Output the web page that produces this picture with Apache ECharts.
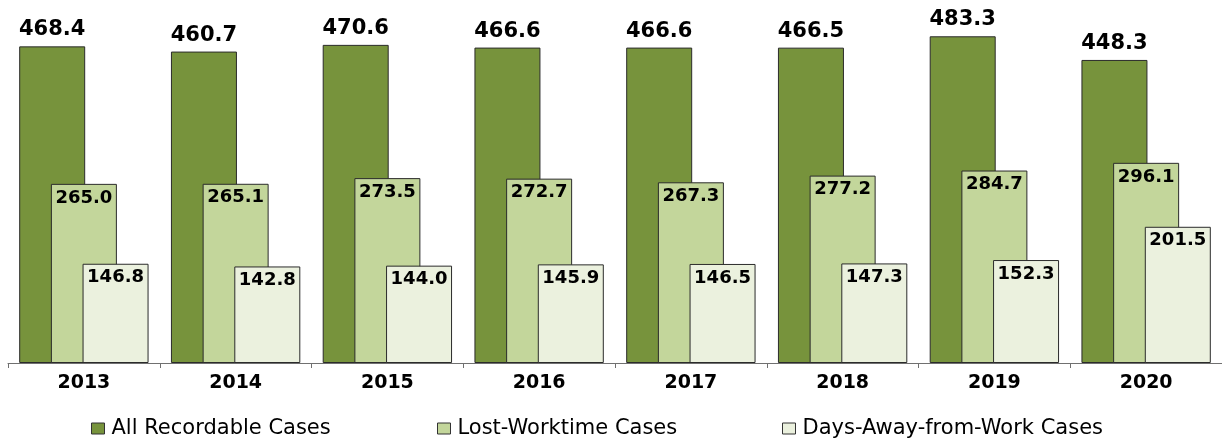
<!DOCTYPE html>
<html><head><meta charset="utf-8">
<script src="https://cdn.jsdelivr.net/npm/echarts@6/dist/echarts.min.js"></script>
<style>html,body{margin:0;padding:0;background:#fff}#c{width:1222px;height:439px}</style>
</head><body><div id="c"></div>
<script>
const years = ['2013','2014','2015','2016','2017','2018','2019','2020'];
const allRecordable = [468.4,460.7,470.6,466.6,466.6,466.5,483.3,448.3];
const lostWorktime = [265.0,265.1,273.5,272.7,267.3,277.2,284.7,296.1];
const daysAway = [146.8,142.8,144.0,145.9,146.5,147.3,152.3,201.5];
const names = ['All Recordable Cases','Lost-Worktime Cases','Days-Away-from-Work Cases'];
const colors = ['#77933C','#C3D69B','#EBF1DE'];
const legendLefts = [91, 437, 782];

const chart = echarts.init(document.getElementById('c'));
const fmt = p => p.value.toFixed(1);
function ser(i, data, pos, size){
  return {
    name: names[i], type:'bar', data: data, barWidth: 66, barGap: '-52%',
    itemStyle:{color: colors[i], borderColor:'#2b2b2b', borderWidth:1},
    label:{show:true, position: pos, distance: pos==='top'?6:5, formatter: fmt,
      fontFamily:'DejaVu Sans', fontWeight:'bold', fontSize:size, color:'#000'},
    animation:false
  };
}
chart.setOption({
  animation:false,
  grid:{left:8, right:0, top:25, bottom:76},
  legend: names.map((n,i)=>({left:legendLefts[i], top:418, itemWidth:13, itemHeight:11, padding:0,
    textStyle:{fontFamily:'DejaVu Sans', fontSize:21, color:'#000', padding:[0,0,0,2]},
    data:[{name:n, icon:'rect', itemStyle:{color:colors[i], borderColor:'#333', borderWidth:1}}]})),
  xAxis:{type:'category', data: years,
    axisLine:{lineStyle:{color:'#707070', width:1}},
    axisTick:{show:true, length:5, lineStyle:{color:'#707070'}},
    axisLabel:{fontFamily:'DejaVu Sans', fontWeight:'bold', fontSize:19, color:'#000', margin:11}},
  yAxis:{type:'value', min:0, max:500, show:false, splitLine:{show:false}},
  series:[
    ser(0, allRecordable, 'top', 21),
    ser(1, lostWorktime, 'insideTop', 18),
    ser(2, daysAway, 'insideTop', 18)
  ]
});
</script></body></html>
